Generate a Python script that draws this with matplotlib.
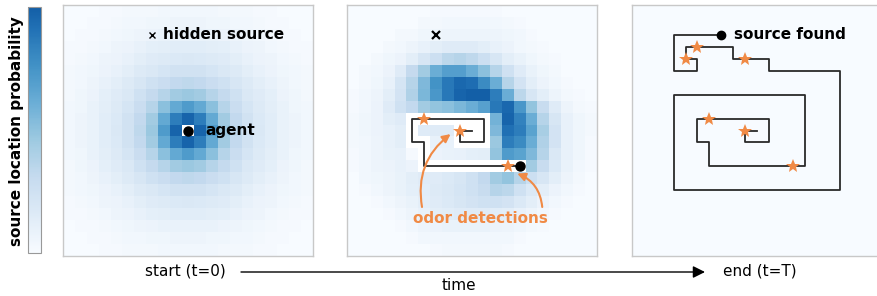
import matplotlib
matplotlib.use('Agg')
import matplotlib.pyplot as plt
import matplotlib.colors as mcolors
import numpy as np

# belief maps (values = position on the Blues map, in %)
# -1 marks cells the agent has already visited (drawn white)
belief_start = [
    [0, 0, 0, 1, 1, 2, 2, 2, 3, 3, 3, 3, 3, 2, 2, 2, 1, 1, 0, 0, 0],
    [0, 0, 1, 1, 2, 3, 3, 4, 4, 5, 5, 5, 4, 4, 3, 3, 2, 1, 1, 0, 0],
    [0, 1, 1, 2, 3, 4, 5, 6, 7, 7, 7, 7, 7, 6, 5, 4, 3, 2, 1, 1, 0],
    [1, 1, 2, 3, 5, 6, 8, 9, 10, 11, 11, 11, 10, 9, 8, 6, 5, 3, 2, 1, 1],
    [1, 2, 3, 5, 6, 8, 10, 12, 13, 14, 15, 14, 13, 12, 10, 8, 6, 5, 3, 2, 1],
    [2, 3, 4, 6, 8, 10, 13, 15, 17, 19, 19, 19, 17, 15, 13, 10, 8, 6, 4, 3, 2],
    [2, 3, 5, 8, 10, 13, 16, 20, 23, 26, 27, 26, 23, 20, 16, 13, 10, 8, 5, 3, 2],
    [2, 4, 6, 9, 12, 15, 20, 25, 30, 36, 38, 36, 30, 25, 20, 15, 12, 9, 6, 4, 2],
    [3, 4, 7, 10, 13, 17, 23, 30, 42, 52, 58, 52, 42, 30, 23, 17, 13, 10, 7, 4, 3],
    [3, 5, 7, 11, 14, 19, 26, 36, 52, 70, 80, 70, 52, 36, 26, 19, 14, 11, 7, 5, 3],
    [3, 5, 7, 11, 15, 19, 27, 38, 58, 80, -1, 80, 58, 38, 27, 19, 15, 11, 7, 5, 3],
    [3, 5, 7, 11, 14, 19, 26, 36, 52, 70, 80, 70, 52, 36, 26, 19, 14, 11, 7, 5, 3],
    [3, 4, 7, 10, 13, 17, 23, 30, 42, 52, 58, 52, 42, 30, 23, 17, 13, 10, 7, 4, 3],
    [2, 4, 6, 9, 12, 15, 20, 25, 30, 36, 38, 36, 30, 25, 20, 15, 12, 9, 6, 4, 2],
    [2, 3, 5, 8, 10, 13, 16, 20, 23, 26, 27, 26, 23, 20, 16, 13, 10, 8, 5, 3, 2],
    [2, 3, 4, 6, 8, 10, 13, 15, 17, 19, 19, 19, 17, 15, 13, 10, 8, 6, 4, 3, 2],
    [1, 2, 3, 5, 6, 8, 10, 12, 13, 14, 15, 14, 13, 12, 10, 8, 6, 5, 3, 2, 1],
    [1, 1, 2, 3, 5, 6, 8, 9, 10, 11, 11, 11, 10, 9, 8, 6, 5, 3, 2, 1, 1],
    [0, 1, 1, 2, 3, 4, 5, 6, 7, 7, 7, 7, 7, 6, 5, 4, 3, 2, 1, 1, 0],
    [0, 0, 1, 1, 2, 3, 3, 4, 4, 5, 5, 5, 4, 4, 3, 3, 2, 1, 1, 0, 0],
    [0, 0, 0, 1, 1, 2, 2, 2, 3, 3, 3, 3, 3, 2, 2, 2, 1, 1, 0, 0, 0],
]

belief_mid = [
    [0, 0, 0, 0, 0, 0, 0, 1, 1, 1, 1, 1, 1, 0, 0, 0, 0, 0, 0, 0, 0],
    [0, 0, 0, 0, 0, 0, 2, 2, 3, 3, 3, 3, 3, 2, 1, 0, 0, 0, 0, 0, 0],
    [0, 0, 0, 0, 2, 2, 4, 4, 5, 5, 5, 5, 5, 4, 3, 1, 0, 0, 0, 0, 0],
    [0, 0, 0, 2, 3, 5, 8, 10, 12, 12, 12, 10, 8, 6, 3, 2, 1, 0, 0, 0, 0],
    [0, 0, 2, 4, 6, 10, 16, 22, 28, 30, 27, 22, 16, 10, 7, 4, 2, 1, 0, 0, 0],
    [0, 2, 3, 6, 12, 25, 36, 50, 57, 57, 50, 42, 30, 20, 12, 7, 4, 2, 0, 0, 0],
    [0, 2, 4, 8, 17, 30, 45, 62, 72, 78, 76, 65, 50, 30, 18, 10, 6, 3, 1, 0, 0],
    [1, 3, 5, 10, 18, 32, 46, 60, 72, 80, 82, 82, 70, 50, 28, 16, 10, 5, 2, 1, 0],
    [1, 3, 6, 12, 20, 26, 36, 40, 42, 46, 50, 56, 72, 78, 60, 40, 24, 12, 5, 2, 1],
    [2, 4, 6, 10, 12, -1, -1, -1, -1, -1, -1, -1, 48, 80, 68, 50, 30, 16, 8, 4, 2],
    [2, 4, 6, 8, 10, -1, 12, 12, 12, -1, -1, -1, 45, 75, 70, 55, 34, 18, 8, 4, 2],
    [2, 3, 5, 8, 10, -1, -1, 8, 8, -1, -1, -1, 38, 70, 65, 50, 32, 18, 8, 4, 1],
    [1, 3, 5, 7, 8, 1, -1, 6, 7, 8, 9, 10, 40, 58, 55, 45, 30, 15, 8, 4, 1],
    [1, 3, 5, 6, 8, 6, -1, -1, -1, -1, -1, -1, -1, -1, -1, 36, 24, 14, 7, 3, 1],
    [0, 3, 4, 5, 7, 10, 12, 12, 14, 16, 20, 26, 36, 40, 30, 22, 16, 10, 5, 2, 0],
    [0, 1, 3, 5, 7, 9, 11, 13, 15, 17, 20, 24, 30, 28, 20, 14, 10, 6, 3, 1, 0],
    [0, 0, 1, 3, 5, 7, 10, 12, 14, 16, 18, 20, 20, 18, 14, 10, 6, 3, 1, 0, 0],
    [0, 0, 0, 1, 3, 5, 8, 10, 11, 12, 12, 12, 11, 10, 8, 5, 3, 1, 0, 0, 0],
    [0, 0, 0, 0, 1, 3, 5, 6, 7, 7, 7, 7, 6, 5, 4, 2, 1, 0, 0, 0, 0],
    [0, 0, 0, 0, 0, 1, 3, 3, 3, 3, 3, 3, 3, 3, 1, 0, 0, 0, 0, 0, 0],
    [0, 0, 0, 0, 0, 0, 0, 1, 2, 2, 2, 2, 2, 1, 0, 0, 0, 0, 0, 0, 0],
]

belief_end = [[0] * 21 for _ in range(21)]

# agent trajectory (grid cells), source and odor hits
path_x = [10, 9, 9, 11, 11, 5, 5, 6, 6, 14, 14, 3, 3, 17, 17, 11, 11, 8, 8, 4, 4, 5, 5, 3, 3, 7]
path_y = [10, 10, 11, 11, 9, 9, 11, 11, 13, 13, 7, 7, 15, 15, 5, 5, 4, 4, 3, 3, 4, 4, 5, 5, 2, 2]
n_mid = 10  # points walked at the middle snapshot
hit_x = [9, 6, 13, 9, 5, 4]
hit_y = [10, 9, 13, 4, 3, 4]
n_hits_mid = 3
source = (7, 2)

orange = '#f08a45'
W, H = 877, 296

cmap = mcolors.ListedColormap(plt.cm.Blues(np.linspace(0, 0.82, 256)))
cmap.set_under('white')

fig = plt.figure(figsize=(W / 100, H / 100), dpi=100)


def panel(left, data):
    ax = fig.add_axes([left / W, (H - 256) / H, 250 / W, 251 / H])
    ax.imshow(np.array(data) / 100.0, cmap=cmap, vmin=0, vmax=0.82,
              interpolation='nearest', aspect='auto')
    ax.set_xlim(-0.5, 20.5)
    ax.set_ylim(20.5, -0.5)
    ax.set_xticks([])
    ax.set_yticks([])
    for s in ax.spines.values():
        s.set_color('#c8c8c8')
        s.set_linewidth(1.0)
    return ax


# panel 1: start
ax1 = panel(63, belief_start)
ax1.plot(source[0], source[1], 'x', color='k', ms=5, mew=1.0)
ax1.text(source[0] + 0.9, source[1], 'hidden source', fontsize=11, fontweight='bold',
         va='center', ha='left')
ax1.plot(path_x[0], path_y[0], 'o', color='k', ms=6.5)
ax1.text(path_x[0] + 1.5, path_y[0], 'agent', fontsize=11, fontweight='bold',
         va='center', ha='left')

# panel 2: some odor detections
ax2 = panel(347, belief_mid)
ax2.plot(source[0], source[1], 'x', color='k', ms=6, mew=1.6)
ax2.plot(path_x[:n_mid], path_y[:n_mid], color='#2a2a2a', lw=1.3)
ax2.plot(hit_x[:n_hits_mid], hit_y[:n_hits_mid], '*', color=orange, ms=10, mew=0)
ax2.plot(path_x[n_mid - 1], path_y[n_mid - 1], 'o', color='k', ms=6.5)
ax2.text(10.7, 17.4, 'odor detections', fontsize=11, fontweight='bold',
         color=orange, ha='center', va='center')
ax2.annotate('', xy=(8.2, 10.3), xytext=(5.8, 16.4),
             arrowprops=dict(arrowstyle='-|>', color=orange, lw=1.5,
                             mutation_scale=12, shrinkA=0, shrinkB=0,
                             connectionstyle='arc3,rad=-0.3'))
ax2.annotate('', xy=(13.8, 13.6), xytext=(15.9, 16.4),
             arrowprops=dict(arrowstyle='-|>', color=orange, lw=1.5,
                             mutation_scale=12, shrinkA=0, shrinkB=0,
                             connectionstyle='arc3,rad=0.3'))

# panel 3: source found
ax3 = panel(632, belief_end)
ax3.plot(path_x, path_y, color='#2a2a2a', lw=1.3)
ax3.plot(hit_x, hit_y, '*', color=orange, ms=10, mew=0)
ax3.plot(path_x[-1], path_y[-1], 'o', color='k', ms=6)
ax3.text(path_x[-1] + 1.1, path_y[-1], 'source found', fontsize=11, fontweight='bold',
         va='center', ha='left')

# colorbar
cax = fig.add_axes([28 / W, (H - 253) / H, 12.5 / W, 246 / H])
sm = plt.cm.ScalarMappable(cmap=cmap, norm=mcolors.Normalize(0, 1))
cb = fig.colorbar(sm, cax=cax)
cb.set_ticks([])
cb.outline.set_edgecolor('#999999')
fig.text(16.5 / W, 1 - 131 / H, 'source location probability', rotation=90,
         fontsize=11, fontweight='bold', ha='center', va='center')

# time axis
fig.text(185 / W, 1 - 271 / H, 'start (t=0)', fontsize=11, ha='center', va='center')
fig.text(760 / W, 1 - 271 / H, 'end (t=T)', fontsize=11, ha='center', va='center')
fig.text(459 / W, 1 - 286 / H, 'time', fontsize=11, ha='center', va='center')
fig.patches.append(matplotlib.patches.FancyArrowPatch(
    (241 / W, 1 - 272 / H), (705 / W, 1 - 272 / H), transform=fig.transFigure,
    arrowstyle='-|>', mutation_scale=18, color='k', lw=1.0, shrinkA=0, shrinkB=0))

fig.savefig('out.png', dpi=100)
